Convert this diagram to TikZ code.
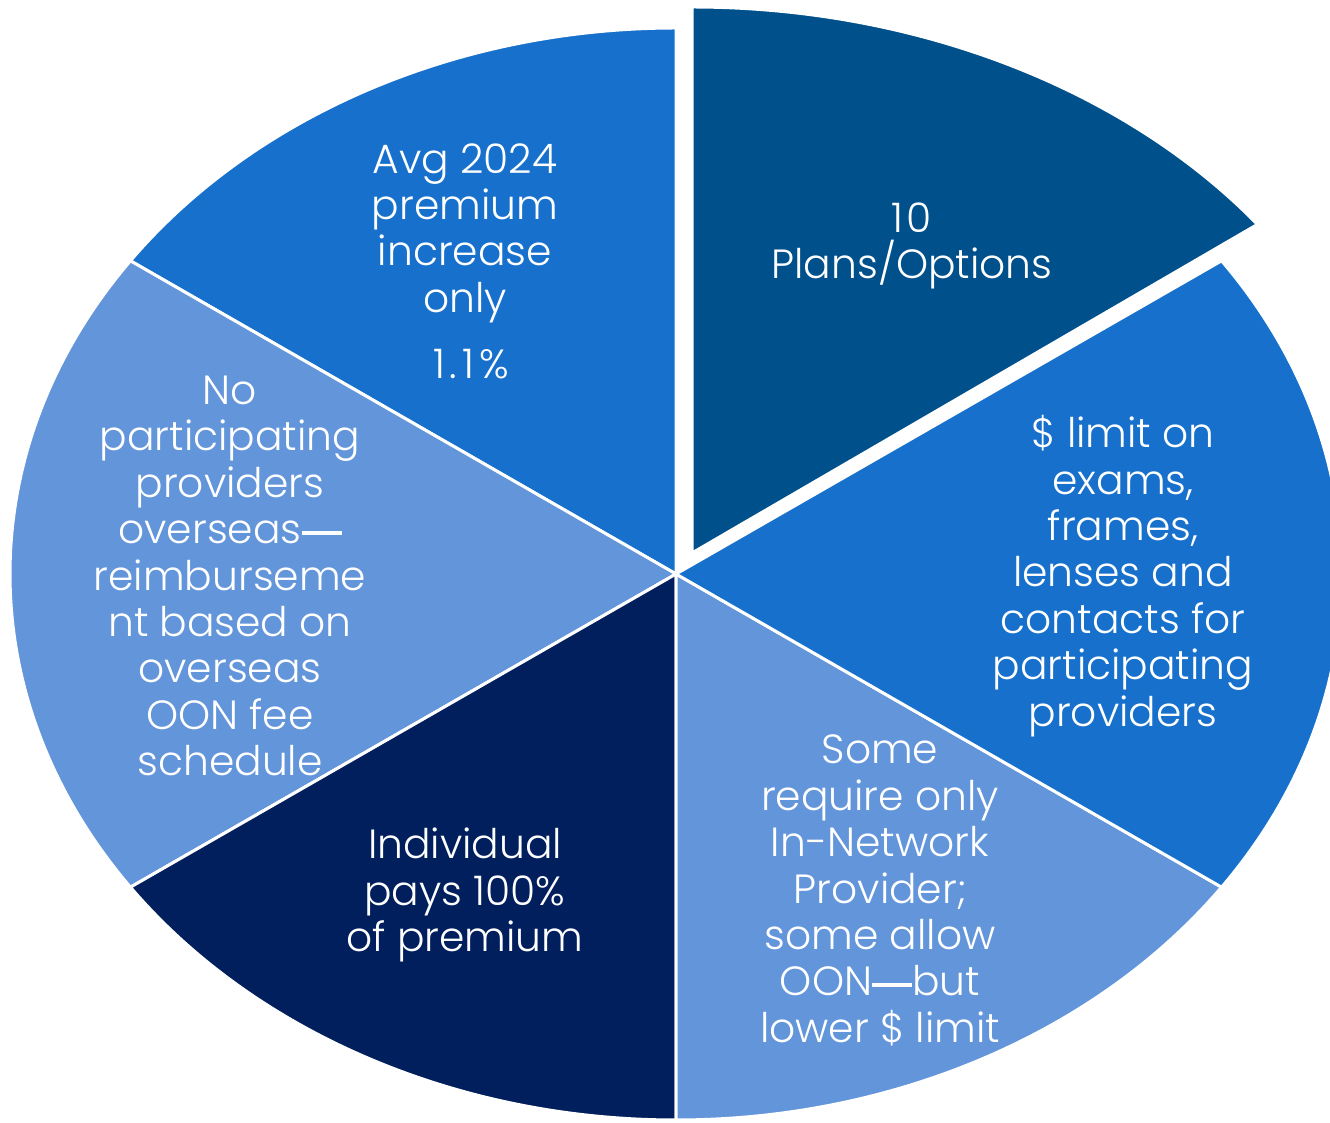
\documentclass[tikz,border=0pt]{standalone}
\usepackage{fontspec}
\setmainfont{Poppins}[UprightFont=* Light]
\definecolor{darkslice}{HTML}{00508C}
\definecolor{midblue}{HTML}{1771CC}
\definecolor{lightblue}{HTML}{6395DA}
\definecolor{navy}{HTML}{001F5C}
\newcommand{\bigdash}{\rule[9pt]{40pt}{4pt}}
\tikzset{
  slice/.style={draw=white, line width=3pt, line join=miter},
  label/.style={text=white, align=center, inner sep=0pt, font=\fontsize{40.8}{46.4}\selectfont}
}
\begin{document}
\begin{tikzpicture}[x=1pt,y=1pt]
\useasboundingbox (0,0) rectangle (1330,1122);
\clip (0,0) rectangle (1330,1122);
\coordinate (C) at (676,548);
\coordinate (E) at (692,569);
% slices
\fill[midblue, slice] (C) -- ++(90:666 and 546) arc[start angle=90, end angle=145, x radius=666, y radius=546] -- cycle;
\fill[lightblue, slice] (C) -- ++(145:666 and 546) arc[start angle=145, end angle=215, x radius=666, y radius=546] -- cycle;
\fill[navy, slice] (C) -- ++(215:666 and 546) arc[start angle=215, end angle=270, x radius=666, y radius=546] -- cycle;
\fill[lightblue, slice] (C) -- ++(270:666 and 546) arc[start angle=270, end angle=325, x radius=666, y radius=546] -- cycle;
\fill[midblue, slice] (C) -- ++(-35:666 and 546) arc[start angle=-35, end angle=35, x radius=666, y radius=546] -- cycle;
\fill[darkslice, slice] (E) -- ++(37:708 and 546) arc[start angle=37, end angle=90, x radius=708, y radius=546] -- cycle;
% labels
\node[label] (t1) at (912,876) {1\kern3pt0\\Plans/Options};
\node[label] (t2) at (1123,546) {\$ limit on\\exams,\\frames,\\lenses and\\contacts for\\participating\\providers};
\node[label] (t3) at (880,231.5) {Some\\require only\\In-Network\\Provider;\\some allow\\OON\bigdash but\\lower \$ limit};
\node[label] (t4) at (465,227) {Individual\\pays 100\%\\of premium};
\node[label] (t5) at (230,546) {No\\participating\\providers\\overseas\bigdash\\reimburseme\\nt based on\\overseas\\OON fee\\schedule};
\node[label] (t6) at (465,889) {Avg 2024\\premium\\increase\\only};
\node[label] (t6b) at (471,758) {1\kern5pt.\kern5pt1\kern5pt\%};
\end{tikzpicture}
\end{document}
